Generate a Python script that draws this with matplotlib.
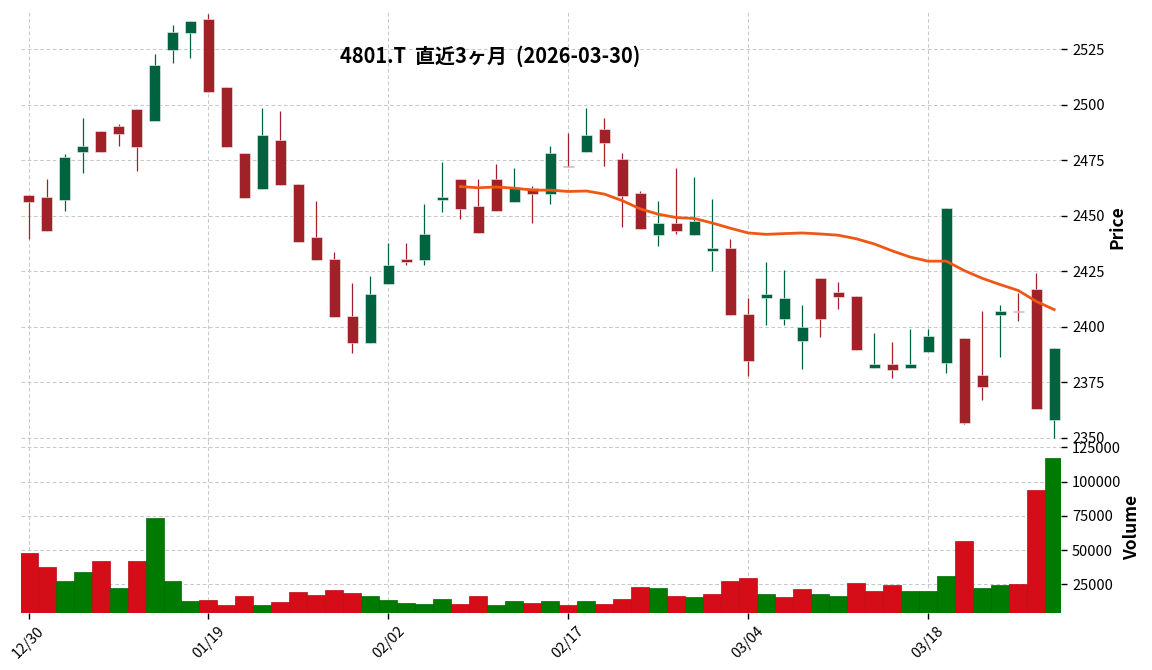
import matplotlib
matplotlib.use("Agg")
import matplotlib.pyplot as plt
import numpy as np

plt.rcParams['font.family'] = ['Noto Sans CJK JP', 'DejaVu Sans']

title = "4801.T  直近3ヶ月  (2026-03-30)"

dates = ["12/30", "01/05", "01/06", "01/07", "01/08", "01/09", "01/13", "01/14", "01/15", "01/16",
         "01/19", "01/20", "01/21", "01/22", "01/23", "01/26", "01/27", "01/28", "01/29", "01/30",
         "02/02", "02/03", "02/04", "02/05", "02/06", "02/09", "02/10", "02/12", "02/13", "02/16",
         "02/17", "02/18", "02/19", "02/20", "02/24", "02/25", "02/26", "02/27", "03/02", "03/03",
         "03/04", "03/05", "03/06", "03/09", "03/10", "03/11", "03/12", "03/13", "03/16", "03/17",
         "03/18", "03/19", "03/23", "03/24", "03/25", "03/26", "03/27", "03/30"]

opens = [2459.3, 2458.4, 2457.3, 2478.9, 2488.2, 2490.5, 2498.1, 2492.8, 2524.8, 2532.5,
         2538.6, 2508.0, 2478.3, 2462.2, 2484.1, 2464.3, 2440.4, 2430.5, 2404.8, 2392.8,
         2419.3, 2430.5, 2430.2, 2457.3, 2466.6, 2454.4, 2466.6, 2456.4, 2462.7, 2460.0,
         2472.6, 2478.9, 2489.1, 2475.6, 2460.3, 2441.3, 2446.7, 2441.3, 2434.3, 2435.5,
         2405.7, 2412.8, 2403.6, 2393.7, 2422.1, 2415.6, 2414.0, 2381.5, 2383.2, 2381.5,
         2388.8, 2383.8, 2394.9, 2378.2, 2405.4, 2407.0, 2417.0, 2358.1]
highs = [2459.5, 2466.4, 2478.0, 2493.9, 2488.2, 2491.3, 2498.1, 2522.7, 2535.8, 2537.8,
         2540.8, 2508.0, 2478.3, 2498.8, 2497.1, 2464.3, 2456.5, 2433.5, 2419.6, 2422.7,
         2437.6, 2437.6, 2455.1, 2474.1, 2466.6, 2466.4, 2473.2, 2471.4, 2463.4, 2481.4,
         2487.1, 2498.8, 2493.9, 2478.1, 2461.3, 2456.5, 2471.4, 2467.3, 2457.6, 2439.5,
         2412.8, 2429.3, 2425.4, 2409.6, 2422.1, 2420.3, 2414.0, 2397.0, 2393.0, 2398.8,
         2398.8, 2453.5, 2394.9, 2406.9, 2409.6, 2415.4, 2424.3, 2390.4]
lows = [2439.4, 2443.3, 2452.3, 2469.1, 2478.9, 2481.3, 2470.0, 2492.8, 2518.7, 2520.9,
        2505.9, 2481.1, 2458.1, 2462.2, 2464.0, 2438.3, 2430.2, 2404.5, 2388.0, 2392.8,
        2419.3, 2427.8, 2427.8, 2451.5, 2448.4, 2442.4, 2452.3, 2456.4, 2446.6, 2455.1,
        2472.0, 2478.9, 2472.4, 2445.1, 2444.2, 2436.5, 2441.6, 2441.3, 2425.2, 2405.4,
        2377.9, 2400.8, 2400.8, 2380.8, 2395.5, 2407.8, 2389.5, 2381.5, 2376.7, 2381.5,
        2388.8, 2379.0, 2356.0, 2367.0, 2386.5, 2402.7, 2363.0, 2350.0]
closes = [2456.3, 2443.3, 2476.5, 2481.4, 2478.9, 2487.0, 2481.1, 2517.9, 2532.8, 2537.7,
          2505.9, 2481.1, 2458.1, 2486.4, 2464.0, 2438.3, 2430.2, 2404.5, 2392.8, 2414.7,
          2427.8, 2429.3, 2441.8, 2458.4, 2453.2, 2442.4, 2452.3, 2463.1, 2460.0, 2478.3,
          2472.0, 2486.4, 2482.9, 2459.1, 2444.2, 2446.7, 2443.3, 2447.6, 2435.5, 2405.4,
          2384.7, 2414.6, 2412.9, 2399.9, 2403.6, 2413.5, 2389.5, 2383.2, 2380.7, 2383.2,
          2395.8, 2453.5, 2356.5, 2373.0, 2407.0, 2406.5, 2363.0, 2390.4]
volumes = [47900, 37700, 27400, 34000, 42000, 22300, 42000, 73400, 27400, 12800,
           13600, 9900, 16500, 9900, 12100, 19400, 17200, 20900, 18700, 16500,
           13600, 11400, 10700, 14300, 10700, 16500, 9900, 12800, 11400, 12800,
           9900, 12800, 10700, 14300, 23000, 22300, 16500, 15700, 17900, 27400,
           29600, 17900, 15700, 21600, 17900, 16500, 26000, 20100, 24500, 20100,
           20100, 31100, 56600, 22300, 24500, 25200, 93900, 117000]
ma_window = 25

UP, DOWN = '#006340', '#a02128'
VUP, VDOWN = '#007a00', '#d50d18'
GRID = '#c8c8c8'

o = np.array(opens); h = np.array(highs); l = np.array(lows); c = np.array(closes)
v = np.array(volumes)
x = np.arange(len(dates))

fig = plt.figure(figsize=(11.52, 6.70), dpi=100)
L, R = 21/1152, 1061/1152
ax = fig.add_axes([L, 1-441/670, R-L, (441-11)/670])
axv = fig.add_axes([L, 1-612.7/670, R-L, (612.7-441)/670], sharex=ax)

up = c >= o
ccol = np.where(up, UP, DOWN)
# wicks
ax.vlines(x, l, h, colors=ccol, linewidth=0.9, zorder=2)
# bodies
bottoms = np.minimum(o, c)
heights = np.maximum(np.abs(c - o), 0.6)
ax.bar(x, heights, bottom=bottoms, width=0.62, color=ccol, edgecolor='#f2f2f2',
       linewidth=0.4, zorder=3)

# moving average
ma = np.full(len(c), np.nan)
for i in range(ma_window-1, len(c)):
    ma[i] = c[i-ma_window+1:i+1].mean()
ax.plot(x, ma, color='#ef5714', linewidth=2.0, zorder=4)

# volume colours by close vs previous close
vup = np.empty(len(c), dtype=bool)
vup[0] = c[0] >= o[0]
vup[1:] = c[1:] >= c[:-1]
vcol = np.where(vup, VUP, VDOWN)
vedge = np.where(vup, '#006a00', '#b80c15')
axv.bar(x, v, width=1.0, color=vcol, edgecolor=vedge, linewidth=0.5, zorder=3)

for a in (ax, axv):
    for s in a.spines.values():
        s.set_visible(False)
    a.grid(True, linestyle=(0, (3.5, 2.5)), color=GRID, linewidth=0.75)
    a.set_axisbelow(True)
    a.yaxis.tick_right()
    a.tick_params(axis='y', which='both', direction='out', length=4, width=1,
                  labelsize=10.5, pad=4, left=False, right=True)
    a.set_facecolor('white')

ax.set_xlim(-0.42, 57.38)
ax.set_ylim(2348.5, 2542.3)
ax.set_yticks([2350, 2375, 2400, 2425, 2450, 2475, 2500, 2525])
ax.tick_params(axis='x', which='both', bottom=False, labelbottom=False)

axv.set_ylim(4270, 129600)
axv.set_yticks([25000, 50000, 75000, 100000, 125000])
axv.set_yticklabels([str(t) for t in [25000, 50000, 75000, 100000, 125000]])
axv.set_xticks(x[::10])
axv.set_xticklabels(dates[::10], rotation=45, ha='center', fontsize=10.5)
axv.tick_params(axis='x', direction='out', length=4, width=1, pad=4)

fig.text(1117/1152, 1-227/670, "Price", rotation=90, ha='center', va='center',
         fontsize=12.5, fontweight='bold')
fig.text(1132/1152, 1-527/670, "Volume", rotation=90, ha='center', va='center',
         fontsize=12.5, fontweight='bold')
fig.text(490/1152, 1-56/670, title, ha='center', va='center', fontsize=14.4,
         fontweight='bold')

fig.savefig("out.png", dpi=100, facecolor='white')
